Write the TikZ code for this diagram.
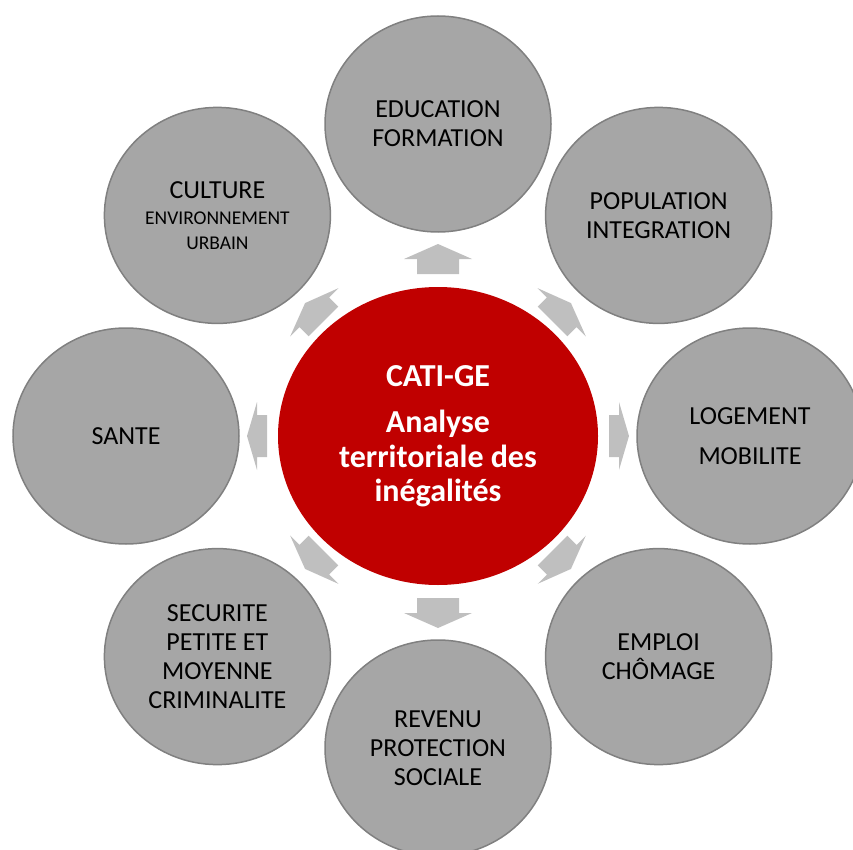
\documentclass[tikz,border=0pt]{standalone}
\usepackage{fontspec}
\setmainfont{Carlito}
\usetikzlibrary{shapes.geometric}
\definecolor{outerfill}{HTML}{A6A6A6}
\definecolor{outerline}{HTML}{808080}
\definecolor{arrowgray}{HTML}{BFBFBF}
\definecolor{centerred}{HTML}{C00000}
\begin{document}
\begin{tikzpicture}[x=1pt,y=-1pt,
  outer/.style={ellipse, fill=outerfill, draw=outerline, line width=1.5pt,
    minimum width=226pt, minimum height=216pt, inner sep=0pt, align=center,
    font=\fontsize{26}{29}\selectfont},
  hub/.style={ellipse, fill=centerred, minimum width=320pt, minimum height=298pt,
    inner sep=0pt, align=center, text=white,
    font=\fontsize{32}{34.5}\selectfont\bfseries},
  blockarrow/.style={fill=arrowgray}]
\useasboundingbox (0,0) rectangle (853,850);
\clip (0,0) rectangle (853,850);

\node[hub] (hub) at (438,436) {CATI-GE\\[12pt]Analyse\\territoriale des\\inégalités};

\node[outer] (edu) at (438,124) {EDUCATION\\FORMATION};
\node[outer] (pop) at (658.6,215.4) {POPULATION\\INTEGRATION};
\node[outer] (log) at (750,436) {LOGEMENT\\[11pt]MOBILITE};
\node[outer] (emp) at (658.6,656.6) {EMPLOI\\CHÔMAGE};
\node[outer] (rev) at (438,748) {REVENU\\PROTECTION\\SOCIALE};
\node[outer] (sec) at (217.4,656.6) {SECURITE\\PETITE ET\\MOYENNE\\CRIMINALITE};
\node[outer] (san) at (126,436) {SANTE};
\node[outer] (cul) at (217.4,215.4) {CULTURE\\[-3pt]{\fontsize{19.5}{23}\selectfont ENVIRONNEMENT}\\[-4pt]{\fontsize{19.5}{23}\selectfont URBAIN}};

\foreach \ang/\r/\len/\hd in {90/177/30/15, 45/175/26/13, 0/181/20/10, -45/175/26/13,
    -90/177/30/15, -135/175/26/13, 180/181/20/10, 135/175/26/13}{
  \fill[blockarrow, shift={({438+\r*cos(\ang)},{436-\r*sin(\ang)})}, rotate=\ang]
    ({-\len/2},-21) -- ({\len/2-\hd},-21) -- ({\len/2-\hd},-34) -- ({\len/2},0)
    -- ({\len/2-\hd},34) -- ({\len/2-\hd},21) -- ({-\len/2},21) -- cycle;
}
\end{tikzpicture}
\end{document}
